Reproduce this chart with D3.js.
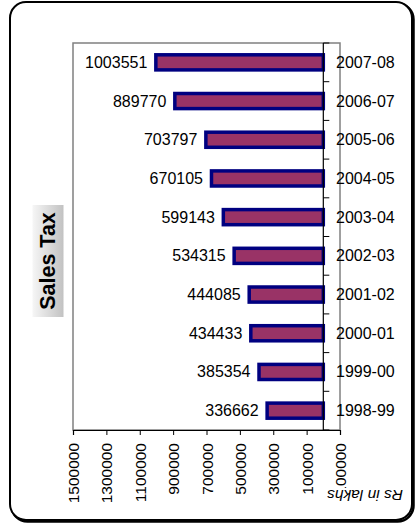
<!DOCTYPE html>
<html><head><meta charset="utf-8">
<script src="https://cdn.jsdelivr.net/npm/d3@7"></script>
<style>html,body{margin:0;padding:0;background:#fff;}svg{display:block;font-family:Arial,"Liberation Sans",sans-serif;}</style>
</head><body>
<script>
const categories = ["2007-08","2006-07","2005-06","2004-05","2003-04","2002-03","2001-02","2000-01","1999-00","1998-99"];
const values = [1003551,889770,703797,670105,599143,534315,444085,434433,385354,336662];
const tickValues = [1500000,1300000,1100000,900000,700000,500000,300000,100000,-100000];
const title = "Sales Tax";
const unitLabel = "Rs in lakhs";

(function(){
const W = 416, H = 529;
const svg = d3.select("body").append("svg").attr("width", W).attr("height", H);

const defs = svg.append("defs");
const g1 = defs.append("linearGradient").attr("id","tg").attr("x1","0").attr("x2","0").attr("y1","0").attr("y2","1");
g1.append("stop").attr("offset","0").attr("stop-color","#f6f6f6");
g1.append("stop").attr("offset","1").attr("stop-color","#c2c2c2");

// outer rounded frame with slight shadow
svg.append("rect").attr("x",11.5).attr("y",3.5).attr("width",402).attr("height",518).attr("rx",16)
  .attr("fill","none").attr("stroke","#000").attr("stroke-width",2.5);
svg.append("rect").attr("x",10).attr("y",2).attr("width",402).attr("height",518).attr("rx",16)
  .attr("fill","#fff").attr("stroke","#000").attr("stroke-width",2);

const pL = 73, pR = 340, pT = 43, pB = 430;
const x = d3.scaleLinear().domain([1500000,-100000]).range([pL,pR]);
const y = d3.scaleBand().domain(categories).range([pT,pB]).paddingInner(0.61).paddingOuter(0.305);

// plot area border
svg.append("rect").attr("x",pL).attr("y",pT).attr("width",pR-pL).attr("height",pB-pT)
  .attr("fill","none").attr("stroke","#808080").attr("stroke-width",1.5);

// bars
svg.append("g").selectAll("rect").data(values).join("rect")
  .attr("x",(d)=>x(d)).attr("width",(d)=>x(0)-x(d))
  .attr("y",(d,i)=>y(categories[i])).attr("height",y.bandwidth())
  .attr("fill","#993366").attr("stroke","#000080").attr("stroke-width",3.5);

// value labels
svg.append("g").selectAll("text").data(values).join("text")
  .attr("x",(d)=>x(d)-8.5).attr("y",(d,i)=>y(categories[i])+y.bandwidth()/2)
  .attr("text-anchor","end").attr("dominant-baseline","central")
  .attr("font-size","16px").attr("fill","#000").text((d)=>d);

// category axis (vertical at zero)
const step = y.step();
const boundaries = d3.range(categories.length+1).map(i=>pT + i*step);
const ca = svg.append("g");
ca.append("line").attr("x1",x(0)).attr("x2",x(0)).attr("y1",pT).attr("y2",pB).attr("stroke","#000").attr("stroke-width",1.2);
ca.selectAll("line.t").data(boundaries).join("line").attr("class","t")
  .attr("x1",x(0)).attr("x2",x(0)+6).attr("y1",d=>d).attr("y2",d=>d).attr("stroke","#000").attr("stroke-width",1);
ca.selectAll("text").data(categories).join("text")
  .attr("x",336).attr("y",d=>y(d)+y.bandwidth()/2)
  .attr("dominant-baseline","central").attr("font-size","16px").text(d=>d);

// value axis at bottom
const xa = d3.axisBottom(x).tickValues(tickValues).tickSize(5).tickFormat(d3.format("d"));
const xg = svg.append("g").attr("transform",`translate(0,${pB})`).call(xa);
xg.select(".domain").attr("stroke","#000").attr("stroke-width",1.2);
xg.selectAll(".tick line").attr("stroke","#000");
xg.selectAll(".tick text").attr("font-size","15.5px").attr("font-family","Arial, 'Liberation Sans', sans-serif")
  .attr("fill","#000")
  .attr("text-anchor","end").attr("dominant-baseline","central")
  .attr("transform","rotate(-90)").attr("x",-13).attr("y",0).attr("dy",null)
  .text(d=>d<0?"-"+Math.abs(d):String(d));

// unit label, upside-down, with white backing
const ug = svg.append("g").attr("transform","translate(365,495) rotate(180)");
ug.append("rect").attr("x",-40).attr("y",-7).attr("width",80).attr("height",14).attr("fill","#fff");
ug.append("text").attr("text-anchor","middle").attr("dominant-baseline","central")
  .attr("font-size","15.5px").attr("font-style","italic").text(unitLabel);

// title with gradient box
const tg = svg.append("g").attr("transform","translate(48,261) rotate(-90)");
tg.append("rect").attr("x",-56).attr("y",-15.5).attr("width",112).attr("height",31).attr("fill","url(#tg)");
tg.append("text").attr("text-anchor","middle").attr("dominant-baseline","central")
  .attr("font-size","21.5px").attr("font-weight","bold").text(title);
})();
</script>
</body></html>
